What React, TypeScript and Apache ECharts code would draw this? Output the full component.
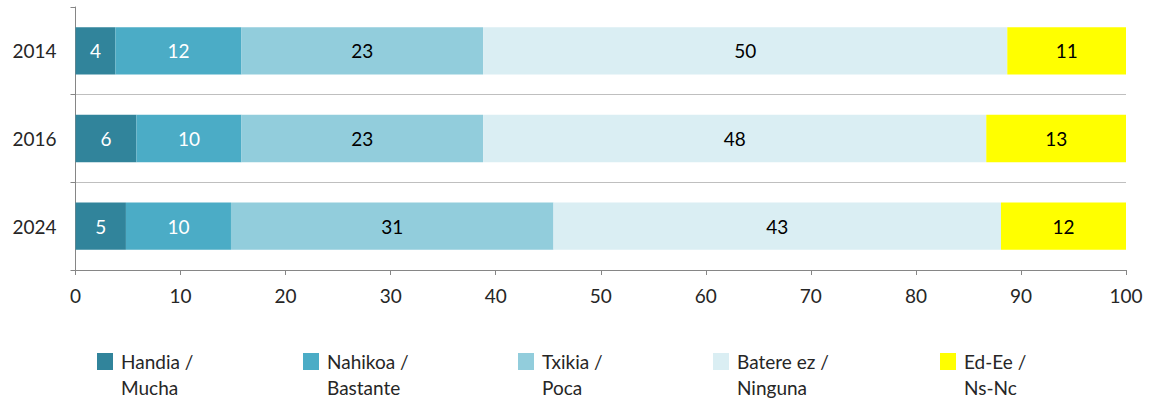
import React, { useEffect, useRef } from "react";
import * as echarts from "echarts";

const categories = ["2014", "2016", "2024"];
const seriesNames = [
  "Handia / Mucha",
  "Nahikoa / Bastante",
  "Txikia / Poca",
  "Batere ez / Ninguna",
  "Ed-Ee / Ns-Nc",
];
const handia = [3.8, 5.8, 4.8];
const nahikoa = [12.0, 10.0, 10.0];
const txikia = [23.0, 23.0, 30.7];
const batere = [49.9, 47.9, 42.6];
const edee = [11.3, 13.3, 11.9];
const xTicks = [0, 10, 20, 30, 40, 50, 60, 70, 80, 90, 100];

const colors = ["#31849B", "#4BACC6", "#92CDDC", "#DAEEF3", "#FFFF00"];
const labelColors = ["#FFFFFF", "#FFFFFF", "#000000", "#000000", "#000000"];
const legendLefts = [97, 303, 518, 713, 940];

const FONT = "Lato";

export default function App() {
  const ref = useRef<HTMLDivElement>(null);
  useEffect(() => {
    if (!ref.current) return;
    document.body.style.margin = "0";
    const chart = echarts.init(ref.current, undefined, { renderer: "svg" });
    const values = [handia, nahikoa, txikia, batere, edee];
    const option: any = {
      animation: false,
      grid: { left: 75.5, right: 24, top: 7, bottom: 130, containLabel: false },
      xAxis: {
        type: "value",
        min: xTicks[0],
        max: xTicks[xTicks.length - 1],
        interval: 10,
        axisLine: { show: true, lineStyle: { color: "#868686", width: 1 } },
        axisTick: { show: true, length: 5, lineStyle: { color: "#868686" } },
        splitLine: { show: false },
        axisLabel: {
          margin: 16,
          fontFamily: FONT,
          fontSize: 19,
          color: "#262626",
        },
      },
      yAxis: {
        type: "category",
        data: categories,
        inverse: true,
        axisLine: { show: true, lineStyle: { color: "#868686", width: 1 } },
        axisTick: { show: true, length: 5, lineStyle: { color: "#868686" } },
        splitLine: {
          show: true,
          showMinLine: false,
          showMaxLine: false,
          lineStyle: { color: "#BFBFBF", width: 1 },
        },
        axisLabel: {
          margin: 19,
          fontFamily: FONT,
          fontSize: 19,
          color: "#262626",
        },
      },
      legend: seriesNames.map((n, i) => ({
        data: [n],
        left: legendLefts[i],
        top: 322.5,
        padding: 0,
        itemWidth: 16,
        itemHeight: 17,
        selectedMode: false,
        icon: "rect",
        formatter: (name: string) => "\u00a0\n" + name.replace(" / ", " /\n"),
        textStyle: {
          fontFamily: FONT,
          fontSize: 19,
          lineHeight: 26,
          color: "#262626",
          padding: [0, 0, 0, 3],
        },
      })),
      series: seriesNames.map((n, i) => ({
        name: n,
        type: "bar",
        stack: "total",
        barCategoryGap: "46%",
        data: values[i],
        itemStyle: { color: colors[i] },
        label: {
          show: true,
          position: "inside",
          fontFamily: FONT,
          fontSize: 19,
          color: labelColors[i],
          formatter: (p: any) => String(Math.round(p.value)),
        },
      })),
    };
    chart.setOption(option);
    return () => chart.dispose();
  }, []);
  return <div ref={ref} style={{ width: 1150, height: 400 }} />;
}
